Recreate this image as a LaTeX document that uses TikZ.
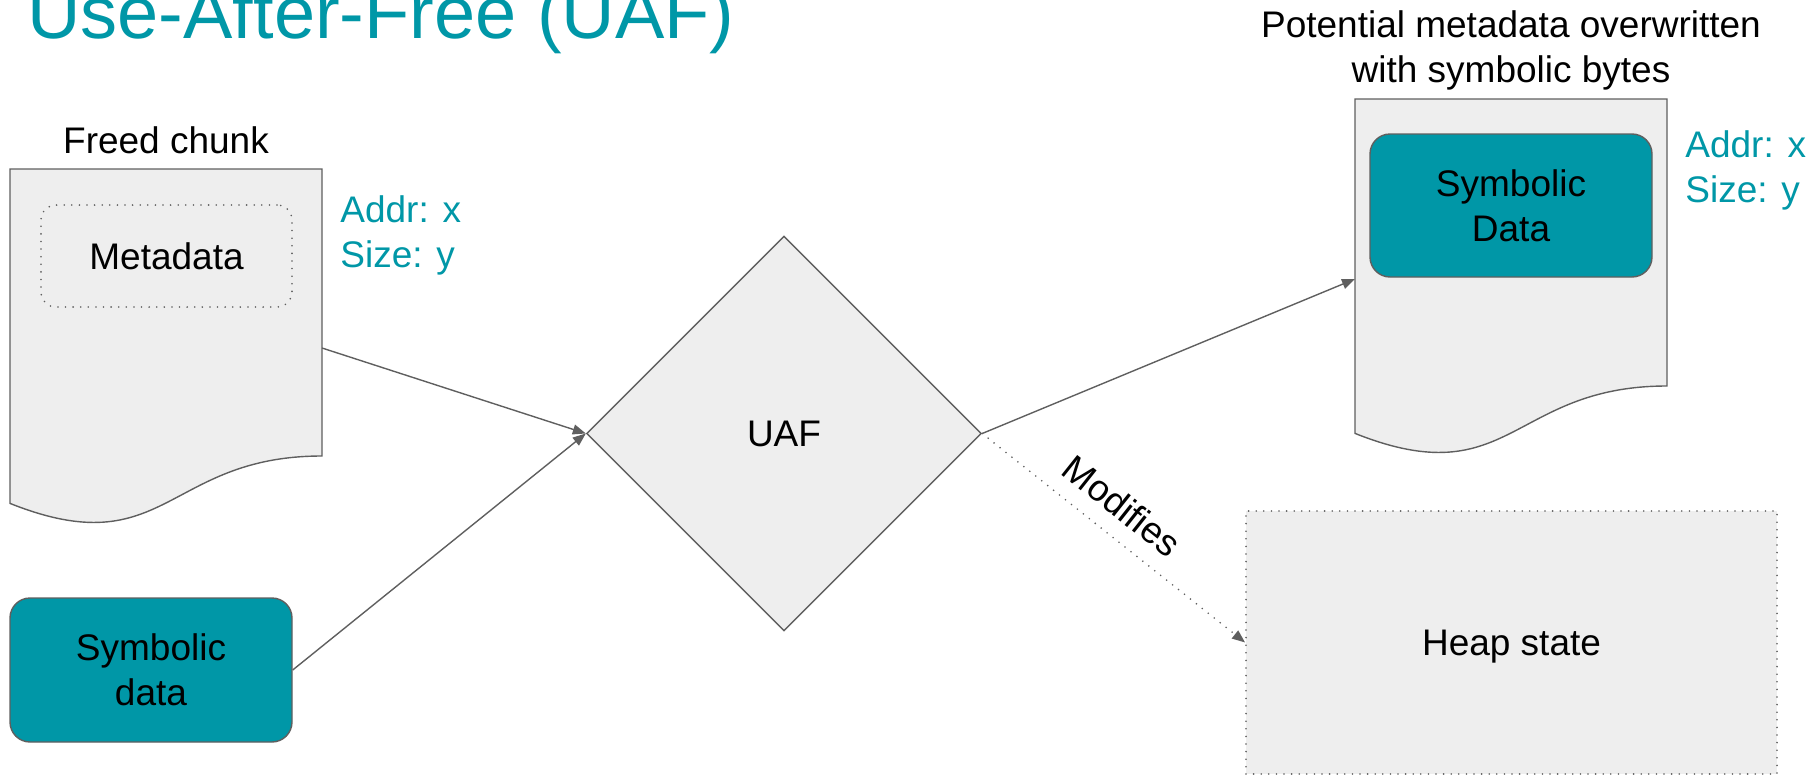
\documentclass[tikz,border=0pt]{standalone}
\usepackage{fontspec}
\setmainfont{Liberation Sans}
\usetikzlibrary{shapes.geometric,arrows.meta}
\definecolor{slideteal}{HTML}{0097A7}
\definecolor{chunkgray}{HTML}{EEEEEE}
\definecolor{linegray}{HTML}{5F5F5F}
\begin{document}
\begin{tikzpicture}[x=0.5pt,y=-0.5pt,
  txt/.style={font=\fontsize{18.5pt}{22.5pt}\selectfont, align=center},
  edge/.style={draw=linegray, line width=0.7pt, -{Triangle[length=6.5pt,width=5pt]}},
  dotline/.style={line width=0.9pt, line cap=round, dash pattern=on 0pt off 3.8pt},
  chunk/.style={fill=chunkgray, draw=linegray, line width=0.7pt},
  symbox/.style={txt, fill=slideteal, draw=linegray, line width=0.7pt, rounded corners=10pt,
    minimum width=141pt, minimum height=72pt},
  infotxt/.style={txt, text=slideteal, align=left, anchor=west, inner sep=0pt},
]
\useasboundingbox (0,0) rectangle (1809,776);

% title
\node[anchor=base west, inner sep=0pt, text=slideteal,
  font=\fontsize{37pt}{44pt}\selectfont] (title) at (27,38) {Use-After-Free (UAF)};

% freed chunk (document shape)
\path[chunk] (10,169) -- (322,169) -- (322,456)
  .. controls (166,456) and (166,565.5) .. (10,503.4) -- cycle;
\node[txt, anchor=base] (freedlbl) at (166,153) {Freed chunk};
\node[txt, draw=linegray, dotline, rounded corners=7.5pt,
  minimum width=125.5pt, minimum height=51pt] (meta) at (166.5,256) {Metadata};
\node[infotxt] (addr1) at (340,235.5) {Addr: x\\Size: y};
\coordinate (freedout) at (322,348);

% symbolic input
\node[symbox] (symdata) at (151,670) {Symbolic\\data};

% UAF decision
\node[txt, diamond, aspect=1, fill=chunkgray, draw=linegray, line width=0.7pt,
  minimum size=197.5pt, inner sep=0pt] (uaf) at (784,433.5) {UAF};

% overwritten chunk (document shape)
\path[chunk] (1355,99) -- (1667,99) -- (1667,386)
  .. controls (1511,386) and (1511,495.5) .. (1355,433.4) -- cycle;
\node[txt] (potlbl) at (1511,50) {Potential metadata overwritten\\with symbolic bytes};
\node[symbox, minimum height=71.5pt] (symdata2) at (1511,205.5) {Symbolic\\Data};
\node[infotxt] (addr2) at (1685,170.5) {Addr: x\\Size: y};
\coordinate (overin) at (1355,279);

% heap state
\node[txt, fill=chunkgray, draw=linegray, dotline, text depth=0pt,
  minimum width=265.5pt, minimum height=131.5pt] (heap) at (1511.5,642.5) {Heap state};

% connectors
\draw[edge] (freedout) -- (uaf.west);
\draw[edge] (symdata.east) -- (uaf.west);
\draw[edge] (uaf.east) -- (overin);
\draw[edge, dotline] (uaf.east) -- node[txt, pos=0.46, sloped, above, inner sep=8pt] (modlbl) {Modifies} (heap.west);
\end{tikzpicture}
\end{document}
